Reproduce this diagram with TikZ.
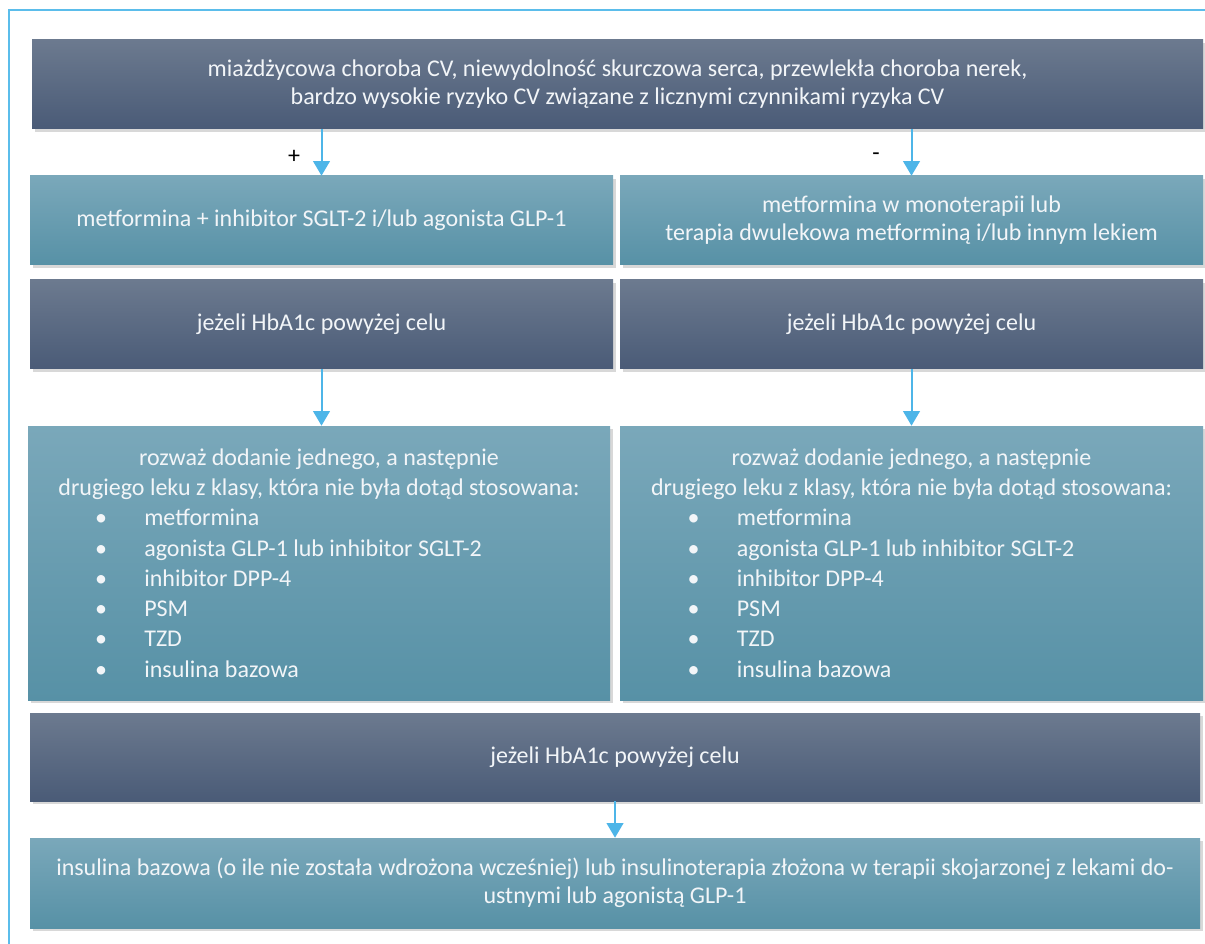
\documentclass[tikz,border=0pt]{standalone}
\usepackage{fontspec}
\setmainfont{Carlito}
\usetikzlibrary{arrows.meta,shadows}
\definecolor{darkA}{HTML}{6C7A8F}
\definecolor{darkB}{HTML}{4A5B77}
\definecolor{tealA}{HTML}{7AA8BA}
\definecolor{tealB}{HTML}{5791A6}
\definecolor{frameblue}{HTML}{5BBDEB}
\definecolor{arrowblue}{HTML}{4DB5E8}
\definecolor{txt}{HTML}{F2F5F8}
\newcommand{\itm}[1]{\hspace*{47pt}\makebox[37pt][l]{•}#1}
\newcommand{\listtext}{%
\begin{minipage}{430pt}\fontsize{18pt}{22.7pt}\selectfont\centering
rozważ dodanie jednego, a następnie\\
drugiego leku z klasy, która nie była dotąd stosowana:\par
\raggedright
\itm{metformina}\\
\itm{agonista GLP-1 lub inhibitor SGLT-2}\\
\itm{inhibitor DPP-4}\\
\itm{PSM}\\
\itm{TZD}\\
\itm{insulina bazowa}
\end{minipage}}
\begin{document}
\begin{tikzpicture}[x=0.75pt,y=-0.75pt,
 box/.style={rectangle, inner sep=0pt, text=txt, align=center,
   font=\fontsize{18pt}{21pt}\selectfont,
   drop shadow={shadow xshift=2pt,shadow yshift=-2.5pt,opacity=0.3}},
 darkbox/.style={box, top color=darkA, bottom color=darkB},
 tealbox/.style={box, top color=tealA, bottom color=tealB},
 flow/.style={draw=arrowblue, line width=1.5pt, -{Triangle[width=12.5pt,length=11pt]}},
 sign/.style={font=\fontsize{18pt}{20pt}\selectfont, text=black, inner sep=0pt}
]
\useasboundingbox (0,0) rectangle (1205,944);
\fill[white] (0,0) rectangle (1205,944);
\coordinate (fbl) at (9,944);
\coordinate (ftl) at (9,10);
\coordinate (ftr) at (1205,10);
\draw[frameblue, line width=1.5pt] (fbl) -- (ftl) -- (ftr);

\node[darkbox, minimum width=878.25pt, minimum height=66.75pt] (top) at (617.5,84)
 {miażdżycowa choroba CV, niewydolność skurczowa serca, przewlekła choroba nerek,\\
  bardzo wysokie ryzyko CV związane z licznymi czynnikami ryzyka CV};

\node[tealbox, minimum width=437.25pt, minimum height=66.75pt] (L1) at (321.5,220.5)
 {metformina + inhibitor SGLT-2 i/lub agonista GLP-1};
\node[tealbox, minimum width=437.25pt, minimum height=66.75pt] (R1) at (911.5,220.5)
 {metformina w monoterapii lub\\terapia dwulekowa metforminą i/lub innym lekiem};

\node[darkbox, minimum width=437.25pt, minimum height=66.75pt] (L2) at (321.5,324.5)
 {jeżeli HbA1c powyżej celu};
\node[darkbox, minimum width=437.25pt, minimum height=66.75pt] (R2) at (911.5,324.5)
 {jeżeli HbA1c powyżej celu};

\node[tealbox, minimum width=436.5pt, minimum height=205.5pt] (L3) at (319,563) {\listtext};
\node[tealbox, minimum width=437.25pt, minimum height=205.5pt] (R3) at (911.5,563) {\listtext};

\node[darkbox, minimum width=877.5pt, minimum height=66pt] (D) at (615,757)
 {jeżeli HbA1c powyżej celu};
\node[tealbox, minimum width=877.5pt, minimum height=67.5pt] (B) at (615,883)
 {insulina bazowa (o ile nie została wdrożona wcześniej) lub insulinoterapia złożona w terapii skojarzonej z lekami do-\\
  ustnymi lub agonistą GLP-1};

\node[sign] (plus) at (294,157) {+};
\node[sign] (minus) at (876,157) {-};

\draw[flow] (top.south -| L1) -- (L1.north);
\draw[flow] (top.south -| R1) -- (R1.north);
\draw[flow] (L2.south) -- (L2.south |- L3.north);
\draw[flow] (R2.south) -- (R2.south |- R3.north);
\draw[flow] (D.south) -- (B.north);
\end{tikzpicture}
\end{document}
